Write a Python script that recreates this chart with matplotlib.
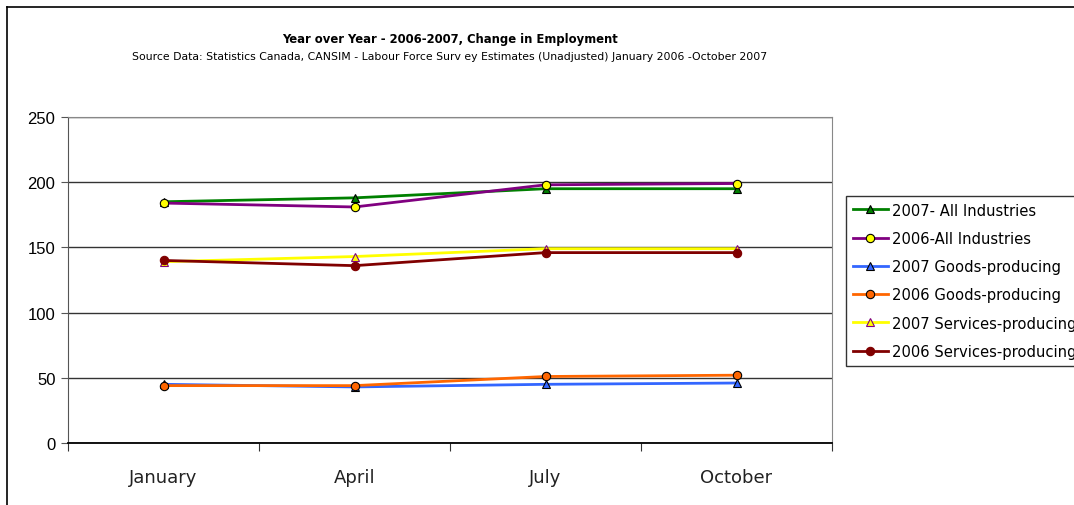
import matplotlib.pyplot as plt
from matplotlib.lines import Line2D

months = ["January", "April", "July", "October"]

all_2007 = [185, 188, 195, 195]
all_2006 = [184, 181, 198, 199]
goods_2007 = [45, 43, 45, 46]
goods_2006 = [44, 44, 51, 52]
serv_2007 = [139, 143, 149, 149]
serv_2006 = [140, 136, 146, 146]

# label, values, line colour, marker, marker face, marker edge
series = [
    ("2007- All Industries", all_2007, "#008000", "^", "#008000", "#000000"),
    ("2006-All Industries", all_2006, "#800080", "o", "#ffff00", "#000000"),
    ("2007 Goods-producing", goods_2007, "#3366ff", "^", "#3366ff", "#000000"),
    ("2006 Goods-producing", goods_2006, "#ff6600", "o", "#ff6600", "#000000"),
    ("2007 Services-producing", serv_2007, "#ffff00", "^", "#ffff00", "#800080"),
    ("2006 Services-producing", serv_2006, "#800000", "o", "#800000", "#800000"),
]

plt.rcParams['font.family'] = ['DejaVu Sans']

fig = plt.figure(figsize=(10.74, 5.06), dpi=100)
ax = fig.add_axes([68 / 1074, 62 / 506, 764 / 1074, 326 / 506])

x = list(range(len(months)))
for label, vals, color, marker, face, edge in series:
    ax.plot(x, vals, color=color, lw=2, marker=marker, markersize=6,
            markerfacecolor=face, markeredgecolor=edge, markeredgewidth=0.8,
            label=label)

ax.set_xlim(-0.5, 3.5)
ax.set_ylim(0, 250)
ax.set_yticks(range(0, 251, 50))
ax.set_xticks([-0.5, 0.5, 1.5, 2.5, 3.5], minor=False)
ax.set_xticklabels([])
ax.set_xticks(x, minor=True)
ax.set_xticklabels(months, minor=True, fontsize=13, color="#222222")
ax.tick_params(axis="x", which="minor", length=0, pad=18)
ax.tick_params(axis="x", which="major", length=6, direction="out", color="#333333")
ax.tick_params(axis="y", length=5, direction="out", color="#555555", pad=4)
for t in ax.get_yticklabels():
    t.set_family("Liberation Sans")
    t.set_fontsize(12)

ax.grid(axis="y", color="#333333", lw=1)
ax.set_axisbelow(True)
for side in ["top", "right"]:
    ax.spines[side].set_color("#888888")
ax.spines["left"].set_color("#555555")
ax.spines["bottom"].set_color("#000000")
ax.spines["bottom"].set_linewidth(1.3)

fig.text(450 / 1074, 1 - 40 / 506, "Year over Year - 2006-2007, Change in Employment",
         ha="center", va="center", fontsize=8.4, fontweight="bold")
fig.text(450 / 1074, 1 - 57 / 506,
         "Source Data: Statistics Canada, CANSIM - Labour Force Surv ey Estimates (Unadjusted) January 2006 -October 2007",
         ha="center", va="center", fontsize=7.8)

leg = ax.legend(loc="upper left", bbox_to_anchor=(846 / 1074, 1 - 197 / 506),
                bbox_transform=fig.transFigure, fontsize=10.6, frameon=True,
                fancybox=False, edgecolor="#000000", borderpad=0.45,
                labelspacing=0.9, handlelength=2.4, handletextpad=0.25,
                borderaxespad=0)
leg.get_frame().set_linewidth(1)

fig.add_artist(Line2D([7 / 1074, 7 / 1074], [0, 1 - 8 / 506], color="black", lw=1.2,
                      transform=fig.transFigure))
fig.add_artist(Line2D([7 / 1074, 1], [1 - 8 / 506, 1 - 8 / 506], color="black", lw=1.2,
                      transform=fig.transFigure))

fig.savefig("out.png", dpi=100)
